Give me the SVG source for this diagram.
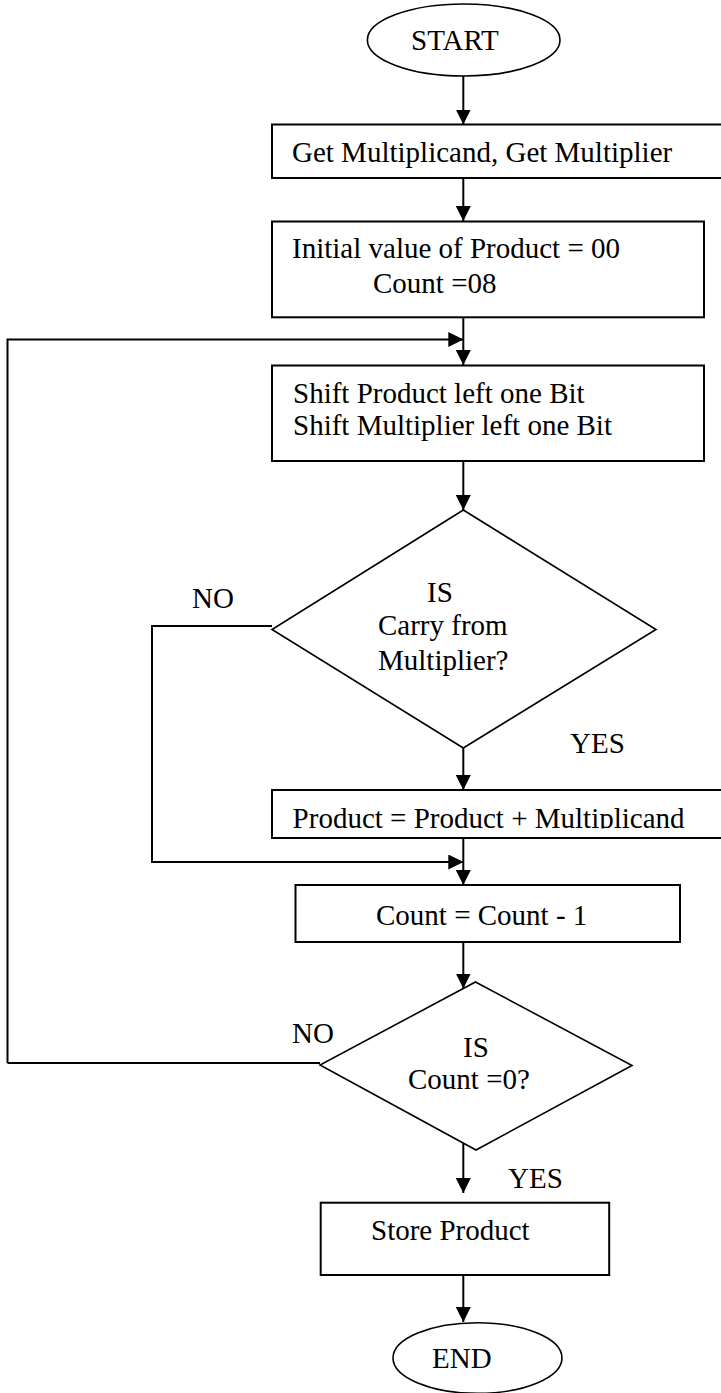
<svg xmlns="http://www.w3.org/2000/svg" width="721" height="1393" viewBox="0 0 721 1393">
<style>
  .box { fill: #fff; stroke: #000; stroke-width: 2; }
  .shape { fill: #fff; stroke: #000; stroke-width: 1.6; }
  .t { font-family: "Liberation Serif", "Times New Roman", serif; font-size: 29px; fill: #000; }
  .ln { fill: none; stroke: #000; stroke-width: 2; }
  .arr { fill: none; stroke: #000; stroke-width: 2; marker-end: url(#ah); }
</style>
<defs>
  <marker id="ah" markerUnits="userSpaceOnUse" markerWidth="15" markerHeight="15" refX="15" refY="7.5" orient="auto">
    <path d="M0,0 L15,7.5 L0,15 Z" fill="#000"/>
  </marker>
  <clipPath id="clipProd">
    <rect x="272" y="790" width="460" height="38.5"/>
  </clipPath>
</defs>

<g id="connectors">
  <line class="arr" x1="463.3" y1="76" x2="463.3" y2="124.5"/>
  <line class="arr" x1="463.3" y1="178" x2="463.3" y2="221"/>
  <line class="arr" x1="463.3" y1="317" x2="463.3" y2="365"/>
  <polyline class="arr" points="7.5,1063 7.5,339.5 463.3,339.5"/>
  <line class="arr" x1="463.3" y1="461" x2="463.3" y2="510"/>
  <line class="arr" x1="463.3" y1="748" x2="463.3" y2="790"/>
  <polyline class="arr" points="272,626 152,626 152,862 463.3,862"/>
  <line class="arr" x1="463.3" y1="838" x2="463.3" y2="885"/>
  <line class="arr" x1="463.3" y1="942" x2="463.3" y2="988.5"/>
  <line class="ln" x1="7.5" y1="1063" x2="320" y2="1063"/>
  <line class="arr" x1="463.3" y1="1143" x2="463.3" y2="1193"/>
  <line class="arr" x1="463.3" y1="1275" x2="463.3" y2="1322"/>
</g>

<g id="start">
  <ellipse class="shape" cx="463.7" cy="40" rx="96.3" ry="36"/>
  <text class="t" x="411" y="50">START</text>
</g>

<g id="get-inputs">
  <rect class="box" x="272" y="124.5" width="455" height="53.5"/>
  <text class="t" x="292" y="162">Get Multiplicand, Get Multiplier</text>
</g>

<g id="init">
  <rect class="box" x="272" y="221.5" width="432" height="95.8"/>
  <text class="t" x="292" y="258">Initial value of Product = 00</text>
  <text class="t" x="373" y="293">Count =08</text>
</g>

<g id="shift">
  <rect class="box" x="272" y="365.5" width="432" height="95.5"/>
  <text class="t" x="293" y="403">Shift Product left one Bit</text>
  <text class="t" x="293" y="435">Shift Multiplier left one Bit</text>
</g>

<g id="carry-decision">
  <polygon class="shape" points="463.3,510 656,629.5 463.3,748 272,629.5"/>
  <text class="t" x="427" y="602">IS</text>
  <text class="t" x="378" y="635">Carry from</text>
  <text class="t" x="378" y="670">Multiplier?</text>
  <text class="t" x="192" y="608">NO</text>
  <text class="t" x="570" y="753">YES</text>
</g>

<g id="add">
  <rect class="box" x="272" y="790" width="455" height="48"/>
  <text class="t" x="292.6" y="828" clip-path="url(#clipProd)">Product = Product + Multiplicand</text>
</g>

<g id="decrement">
  <rect class="box" x="295.5" y="885" width="384.5" height="57"/>
  <text class="t" x="376" y="925">Count = Count - 1</text>
</g>

<g id="count-decision">
  <polygon class="shape" points="475.5,982 632,1065.5 476,1150 320,1065"/>
  <text class="t" x="463" y="1057">IS</text>
  <text class="t" x="408" y="1089">Count =0?</text>
  <text class="t" x="292" y="1043">NO</text>
  <text class="t" x="508" y="1188">YES</text>
</g>

<g id="store">
  <rect class="box" x="320.7" y="1202.7" width="288.5" height="72.3"/>
  <text class="t" x="371" y="1240">Store Product</text>
</g>

<g id="end">
  <ellipse class="shape" cx="477.5" cy="1358" rx="84.5" ry="35.3"/>
  <text class="t" x="432" y="1368">END</text>
</g>
</svg>
